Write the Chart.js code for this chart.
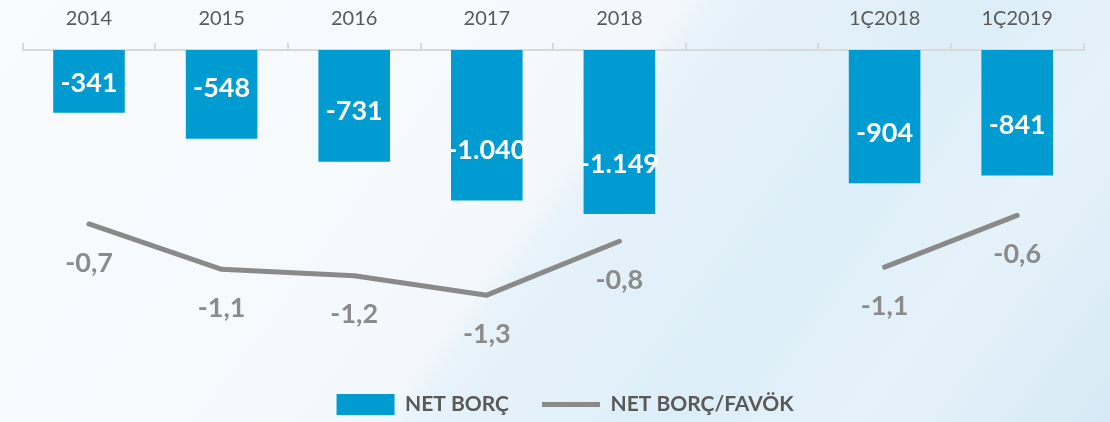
<!DOCTYPE html>
<html>
<head>
<meta charset="utf-8">
<script src="https://cdn.jsdelivr.net/npm/chart.js@4.4.1/dist/chart.umd.min.js"></script>
<style>
  html, body { margin: 0; padding: 0; }
  body {
    width: 1110px; height: 422px; overflow: hidden;
    background: linear-gradient(126deg, #f9fbfe 0%, #f4f8fc 48%, #e7f2fa 51%, #ddeef8 70%, #e6f2fa 82%, #d7e9f5 100%);
  }
  canvas { display: block; }
</style>
</head>
<body>
<canvas id="chart" width="1110" height="422"></canvas>
<script>
// ---- data ----
const categories = ['2014', '2015', '2016', '2017', '2018', '', '1Ç2018', '1Ç2019'];
const netBorc = [-341, -548, -731, -1040, -1149, null, -904, -841];
const netBorcFavok = [-0.68, -1.10, -1.16, -1.34, -0.84, null, -1.08, -0.60];
const seriesNames = ['NET BORÇ', 'NET BORÇ/FAVÖK'];
const borcAxisRange = [-2321, 159.5];   // primary axis (bars hang from the top crossing)
const oranAxisRange = [-1.950, 0.932];  // secondary axis (ratio line)

// ---- formatting ----
function fmtInt(v) {
  const s = Math.abs(v).toString().replace(/\B(?=(\d{3})+(?!\d))/g, '.');
  return (v < 0 ? '-' : '') + s;
}
function fmtDec(v) {
  return v.toFixed(1).replace('.', ',');
}

const BLUE = '#009bd0';
const GREY_LINE = '#8a8a8a';
const GREY_LABEL = '#8b8b8b';
const TEXT = '#595959';

const valueLabels = {
  id: 'valueLabels',
  afterDatasetsDraw(chart) {
    const ctx = chart.ctx;
    ctx.save();
    ctx.font = 'bold 27px Lato';
    ctx.textAlign = 'center';
    ctx.textBaseline = 'middle';
    const barMeta = chart.getDatasetMeta(0);
    barMeta.data.forEach((el, i) => {
      const v = netBorc[i];
      if (v == null) return;
      const top = Math.min(el.base, el.y);
      const end = Math.max(el.base, el.y);
      const y = Math.max(end - 50, top + 33);
      ctx.fillStyle = '#ffffff';
      ctx.fillText(fmtInt(v), el.x, y);
    });
    const lineMeta = chart.getDatasetMeta(1);
    lineMeta.data.forEach((el, i) => {
      const v = netBorcFavok[i];
      if (v == null) return;
      ctx.fillStyle = GREY_LABEL;
      ctx.fillText(fmtDec(v), el.x, el.y + 39);
    });
    ctx.restore();
  }
};

const legendShift = {
  id: 'legendShift',
  afterLayout(chart) {
    const l = chart.legend;
    if (l) { l.left += 12; l.right += 12; }
  }
};

new Chart(document.getElementById('chart'), {
  type: 'bar',
  data: {
    labels: categories,
    datasets: [
      {
        type: 'bar',
        label: seriesNames[0],
        data: netBorc,
        backgroundColor: BLUE,
        borderWidth: 0,
        base: borcAxisRange[1],
        yAxisID: 'y',
        categoryPercentage: 1,
        barPercentage: 0.54
      },
      {
        type: 'line',
        label: seriesNames[1],
        data: netBorcFavok,
        borderColor: GREY_LINE,
        backgroundColor: GREY_LINE,
        borderWidth: 5,
        borderCapStyle: 'round',
        borderJoinStyle: 'round',
        pointRadius: 0,
        pointHoverRadius: 0,
        tension: 0,
        spanGaps: false,
        fill: false,
        yAxisID: 'y1'
      }
    ]
  },
  options: {
    responsive: false,
    animation: false,
    devicePixelRatio: 1,
    layout: { padding: { top: 0, left: 22.7, right: 26.5, bottom: -3 } },
    scales: {
      x: {
        position: 'top',
        offset: true,
        afterFit(scale) { scale.height = 50; },
        grid: {
          offset: true,
          drawOnChartArea: false,
          drawTicks: true,
          tickLength: 7,
          color: '#d9d9d9',
          lineWidth: 2
        },
        border: { display: true, color: '#d9d9d9', width: 2 },
        ticks: {
          color: TEXT,
          padding: 12,
          font: { family: 'Lato', size: 20, weight: 'normal' },
          maxRotation: 0,
          autoSkip: false
        }
      },
      y: {
        display: false,
        min: borcAxisRange[0],
        max: borcAxisRange[1]
      },
      y1: {
        display: false,
        position: 'right',
        min: oranAxisRange[0],
        max: oranAxisRange[1]
      }
    },
    plugins: {
      tooltip: { enabled: false },
      legend: {
        position: 'bottom',
        labels: {
          color: TEXT,
          font: { family: 'Lato', size: 21, weight: 'bold' },
          usePointStyle: true,
          pointStyleWidth: 58,
          boxHeight: 22,
          padding: 33,
          sort: (a, b) => a.datasetIndex - b.datasetIndex,
          generateLabels(chart) {
            const items = Chart.defaults.plugins.legend.labels.generateLabels(chart);
            items.forEach(it => {
              if (it.datasetIndex === 0) {
                it.pointStyle = 'rect';
                it.fillStyle = BLUE;
                it.strokeStyle = BLUE;
                it.lineWidth = 0;
              } else {
                it.pointStyle = 'line';
                it.strokeStyle = GREY_LINE;
                it.fillStyle = GREY_LINE;
                it.lineWidth = 5;
                it.lineCap = 'butt';
              }
            });
            return items;
          }
        }
      }
    }
  },
  plugins: [valueLabels, legendShift]
});
</script>
</body>
</html>
